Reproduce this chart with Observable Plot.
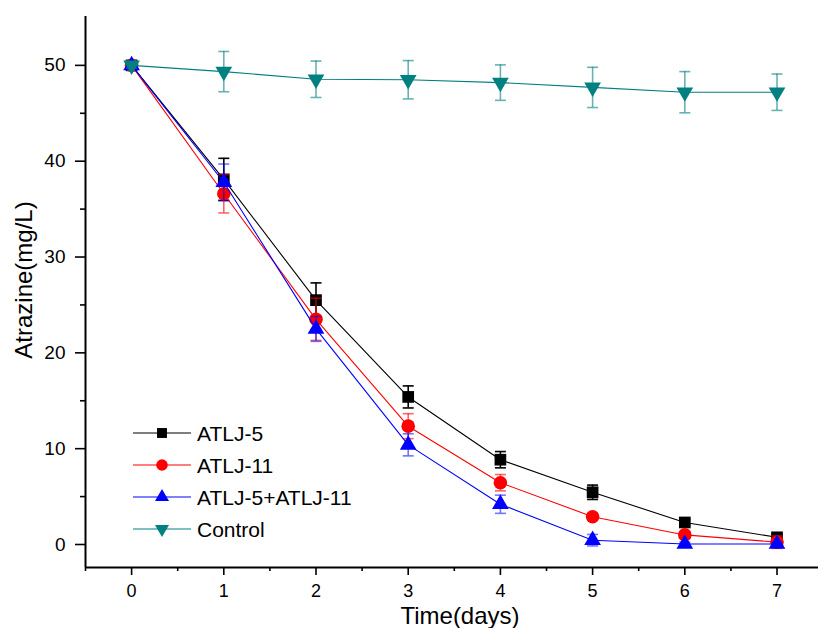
<!DOCTYPE html>
<html>
<head>
<meta charset="utf-8">
<script src="https://cdn.jsdelivr.net/npm/d3@7"></script>
<script src="https://cdn.jsdelivr.net/npm/@observablehq/plot@0.6"></script>
<style>
  html, body { margin: 0; padding: 0; background: #fff; }
  #chart { width: 818px; height: 628px; }
  svg { font-family: "Liberation Sans", Arial, sans-serif; }
</style>
</head>
<body>
<div id="chart"></div>
<script>
// ---- data ----
const days = [0, 1, 2, 3, 4, 5, 6, 7];
const seriesNames = ["ATLJ-5", "ATLJ-11", "ATLJ-5+ATLJ-11", "Control"];
const seriesColors = ["#000000", "#ff0000", "#0000ff", "#008080"];
const atlj5 = [50, 38.1, 25.5, 15.4, 8.85, 5.45, 2.3, 0.75];
const atlj5Err = [0.3, 2.2, 1.8, 1.15, 0.85, 0.75, 0.3, 0.3];
const atlj11 = [50, 36.6, 23.5, 12.35, 6.45, 2.9, 1.0, 0.25];
const atlj11Err = [0.3, 2.0, 2.2, 1.3, 0.85, 0.35, 0.3, 0.65];
const combo = [50, 37.8, 22.5, 10.4, 4.2, 0.45, 0.05, 0.05];
const comboErr = [0.3, 1.9, 1.3, 1.15, 0.95, 0.6, 0.2, 0.2];
const control = [50, 49.35, 48.55, 48.5, 48.2, 47.7, 47.2, 47.2];
const controlErr = [0.3, 2.1, 1.9, 2.0, 1.85, 2.1, 2.15, 1.9];
const yMajorTicks = [0, 10, 20, 30, 40, 50];
const yMinorTicks = [5, 15, 25, 35, 45];
const xMinorTicks = [-0.5, 0.5, 1.5, 2.5, 3.5, 4.5, 5.5, 6.5];

const values = [atlj5, atlj11, combo, control];
const errs = [atlj5Err, atlj11Err, comboErr, controlErr];
const symbols = ["square", "circle", "triangle", "triangle"];
const rotations = [0, 0, 0, 180];
const radii = [6.6, 6.8, 6.2, 6.2];
const legendRadii = [5.6, 5.8, 5.2, 5.2];
const capOpacity = [1, 0.6, 0.55, 0.6];

const rows = [];
seriesNames.forEach((name, i) => {
  days.forEach((d, j) => rows.push({series: name, day: d, value: values[i][j], err: errs[i][j]}));
});

const capSymbol = {
  draw(ctx, size) { ctx.moveTo(-5.5, 0); ctx.lineTo(5.5, 0); }
};

const marks = [];
// axis lines
marks.push(Plot.ruleX([-0.5], {stroke: "#000", strokeWidth: 2}));
marks.push(Plot.ruleY([-2.4], {stroke: "#000", strokeWidth: 2}));
marks.push(Plot.axisY({ticks: yMajorTicks, tickSize: 10, tickPadding: 10, strokeWidth: 1.6, fontSize: 19, tickFormat: d => d, label: null}));
marks.push(Plot.axisY({ticks: yMinorTicks, tickSize: 5, strokeWidth: 1.6, tickFormat: () => "", label: null}));
marks.push(Plot.axisX({ticks: days, tickSize: 8, tickPadding: 9, strokeWidth: 1.6, fontSize: 18, tickFormat: d => d, label: null}));
marks.push(Plot.axisX({ticks: xMinorTicks, tickSize: 4, strokeWidth: 1.6, tickFormat: () => "", label: null}));

seriesNames.forEach((name, i) => {
  const data = rows.filter(r => r.series === name);
  const color = seriesColors[i];
  marks.push(Plot.ruleX(data, {x: "day", y1: d => d.value - d.err, y2: d => d.value + d.err, stroke: color, strokeOpacity: capOpacity[i], strokeWidth: 1.6}));
  marks.push(Plot.dot(data, {x: "day", y: d => d.value + d.err, symbol: capSymbol, r: 3, stroke: color, strokeOpacity: capOpacity[i], strokeWidth: 1.6, fill: "none"}));
  marks.push(Plot.dot(data, {x: "day", y: d => d.value - d.err, symbol: capSymbol, r: 3, stroke: color, strokeOpacity: capOpacity[i], strokeWidth: 1.6, fill: "none"}));
  marks.push(Plot.line(data, {x: "day", y: "value", stroke: color, strokeWidth: 1.1}));
  marks.push(Plot.dot(data, {x: "day", y: "value", symbol: symbols[i], rotate: rotations[i], r: radii[i], fill: color, stroke: "none"}));
});

const chart = Plot.plot({
  width: 818,
  height: 628,
  marginLeft: 85,
  marginRight: 0,
  marginTop: 16,
  marginBottom: 61,
  x: {domain: [-0.5, 7.45]},
  y: {domain: [-2.4, 55.1]},
  style: {fontFamily: "Liberation Sans, Arial, sans-serif", background: "#fff", color: "#000"},
  marks
});
document.getElementById("chart").appendChild(chart);

// ---- titles and legend ----
const svg = d3.select(chart);
svg.append("text")
  .attr("transform", "translate(32,280) rotate(-90)")
  .attr("text-anchor", "middle")
  .attr("font-size", 24)
  .attr("fill", "#000")
  .text("Atrazine(mg/L)");
svg.append("text")
  .attr("x", 460).attr("y", 624)
  .attr("text-anchor", "middle")
  .attr("font-size", 24)
  .attr("fill", "#000")
  .text("Time(days)");

const legendY = [433, 465, 497, 529];
const symMap = {square: d3.symbolSquare, circle: d3.symbolCircle, triangle: d3.symbolTriangle};
seriesNames.forEach((name, i) => {
  const g = svg.append("g").attr("transform", `translate(0,${legendY[i]})`);
  g.append("line").attr("x1", 133).attr("x2", 191).attr("y1", 0).attr("y2", 0)
    .attr("stroke", seriesColors[i]).attr("stroke-width", 1.1);
  const r = legendRadii[i];
  g.append("path")
    .attr("d", d3.symbol(symMap[symbols[i]], Math.PI * r * r)())
    .attr("transform", `translate(162,0) rotate(${rotations[i]})`)
    .attr("fill", seriesColors[i]);
  g.append("text").attr("x", 197).attr("y", 0).attr("dy", "0.36em")
    .attr("text-anchor", "start")
    .attr("font-size", 21).attr("fill", "#000").text(name);
});
</script>
</body>
</html>
